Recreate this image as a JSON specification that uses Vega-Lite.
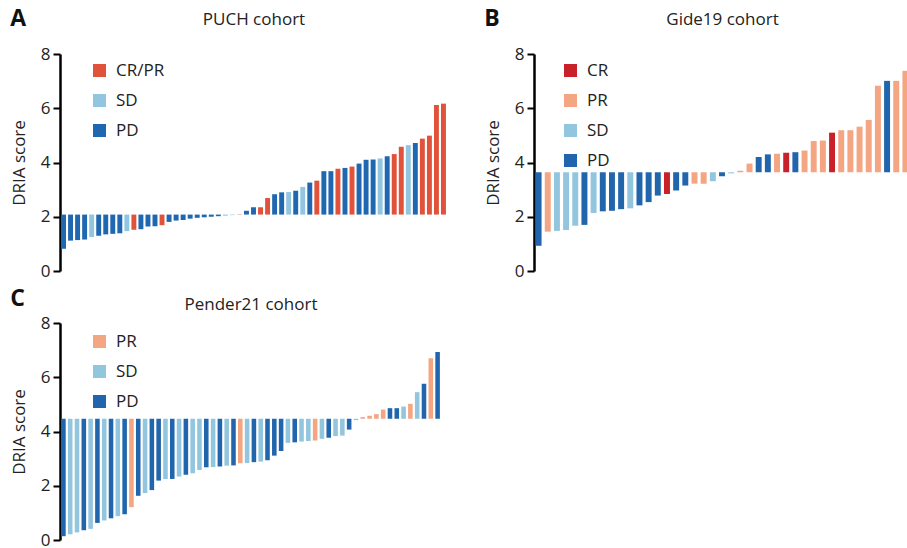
{
 "$schema": "https://vega.github.io/schema/vega-lite/v6.json",
 "background": "white",
 "padding": {"left": 10, "top": 8, "right": 0, "bottom": 0},
 "config": {
  "font": "Open Sans",
  "view": {"stroke": null},
  "axis": {"labelFontSize": 17, "titleFontSize": 17, "titleFontWeight": "normal", "labelColor": "#222", "titleColor": "#222", "grid": false},
  "axisY": {"domainColor": "#000", "domainWidth": 2.5, "tickColor": "#000", "tickWidth": 2, "tickSize": 7, "labelPadding": 3, "titlePadding": 12},
  "title": {"fontSize": 23, "fontWeight": "bold", "color": "#111", "anchor": "start", "frame": "bounds"},
  "legend": {"symbolType": "square", "symbolSize": 169, "symbolStrokeWidth": 0, "labelFontSize": 17, "labelColor": "#222", "rowPadding": 12, "labelOffset": 8, "padding": 0, "orient": "none"}
 },
 "datasets": {
  "puch": [
   {"rank":1,"score":0.82,"response":"PD"},{"rank":2,"score":1.12,"response":"PD"},{"rank":3,"score":1.14,"response":"PD"},{"rank":4,"score":1.16,"response":"PD"},{"rank":5,"score":1.25,"response":"SD"},{"rank":6,"score":1.30,"response":"PD"},{"rank":7,"score":1.35,"response":"PD"},{"rank":8,"score":1.37,"response":"PD"},{"rank":9,"score":1.39,"response":"PD"},{"rank":10,"score":1.47,"response":"SD"},{"rank":11,"score":1.52,"response":"CR/PR"},{"rank":12,"score":1.54,"response":"PD"},{"rank":13,"score":1.64,"response":"PD"},{"rank":14,"score":1.65,"response":"PD"},{"rank":15,"score":1.69,"response":"CR/PR"},{"rank":16,"score":1.81,"response":"PD"},{"rank":17,"score":1.86,"response":"PD"},{"rank":18,"score":1.88,"response":"PD"},{"rank":19,"score":1.93,"response":"PD"},{"rank":20,"score":1.96,"response":"PD"},{"rank":21,"score":1.98,"response":"PD"},{"rank":22,"score":2.00,"response":"PD"},{"rank":23,"score":2.02,"response":"PD"},{"rank":24,"score":2.04,"response":"SD"},{"rank":25,"score":2.06,"response":"SD"},{"rank":26,"score":2.07,"response":"CR/PR"},{"rank":27,"score":2.22,"response":"PD"},{"rank":28,"score":2.35,"response":"PD"},{"rank":29,"score":2.35,"response":"CR/PR"},{"rank":30,"score":2.69,"response":"CR/PR"},{"rank":31,"score":2.83,"response":"PD"},{"rank":32,"score":2.90,"response":"PD"},{"rank":33,"score":2.91,"response":"SD"},{"rank":34,"score":2.96,"response":"PD"},{"rank":35,"score":3.10,"response":"SD"},{"rank":36,"score":3.26,"response":"PD"},{"rank":37,"score":3.33,"response":"CR/PR"},{"rank":38,"score":3.68,"response":"PD"},{"rank":39,"score":3.68,"response":"PD"},{"rank":40,"score":3.77,"response":"CR/PR"},{"rank":41,"score":3.80,"response":"PD"},{"rank":42,"score":3.85,"response":"CR/PR"},{"rank":43,"score":3.96,"response":"PD"},{"rank":44,"score":4.10,"response":"PD"},{"rank":45,"score":4.11,"response":"PD"},{"rank":46,"score":4.15,"response":"SD"},{"rank":47,"score":4.23,"response":"PD"},{"rank":48,"score":4.31,"response":"CR/PR"},{"rank":49,"score":4.58,"response":"CR/PR"},{"rank":50,"score":4.64,"response":"SD"},{"rank":51,"score":4.72,"response":"PD"},{"rank":52,"score":4.88,"response":"CR/PR"},{"rank":53,"score":4.99,"response":"CR/PR"},{"rank":54,"score":6.12,"response":"CR/PR"},{"rank":55,"score":6.17,"response":"CR/PR"}
  ],
  "gide": [
   {"rank":1,"score":0.93,"response":"PD"},{"rank":2,"score":1.45,"response":"PR"},{"rank":3,"score":1.48,"response":"SD"},{"rank":4,"score":1.51,"response":"SD"},{"rank":5,"score":1.67,"response":"SD"},{"rank":6,"score":1.70,"response":"PD"},{"rank":7,"score":2.14,"response":"SD"},{"rank":8,"score":2.20,"response":"PD"},{"rank":9,"score":2.22,"response":"PD"},{"rank":10,"score":2.28,"response":"PD"},{"rank":11,"score":2.31,"response":"SD"},{"rank":12,"score":2.42,"response":"PD"},{"rank":13,"score":2.54,"response":"PD"},{"rank":14,"score":2.78,"response":"PD"},{"rank":15,"score":2.84,"response":"CR"},{"rank":16,"score":2.97,"response":"PD"},{"rank":17,"score":3.15,"response":"PD"},{"rank":18,"score":3.22,"response":"PR"},{"rank":19,"score":3.22,"response":"PR"},{"rank":20,"score":3.31,"response":"SD"},{"rank":21,"score":3.49,"response":"PD"},{"rank":22,"score":3.60,"response":"SD"},{"rank":23,"score":3.70,"response":"PR"},{"rank":24,"score":3.96,"response":"PR"},{"rank":25,"score":4.20,"response":"PD"},{"rank":26,"score":4.30,"response":"PD"},{"rank":27,"score":4.32,"response":"PR"},{"rank":28,"score":4.36,"response":"CR"},{"rank":29,"score":4.38,"response":"PD"},{"rank":30,"score":4.44,"response":"PR"},{"rank":31,"score":4.79,"response":"PR"},{"rank":32,"score":4.81,"response":"PR"},{"rank":33,"score":5.10,"response":"CR"},{"rank":34,"score":5.19,"response":"PR"},{"rank":35,"score":5.19,"response":"PR"},{"rank":36,"score":5.32,"response":"PR"},{"rank":37,"score":5.57,"response":"PR"},{"rank":38,"score":6.83,"response":"PR"},{"rank":39,"score":7.01,"response":"PD"},{"rank":40,"score":7.01,"response":"PR"},{"rank":41,"score":7.38,"response":"PR"}
  ],
  "pender": [
   {"rank":1,"score":0.14,"response":"PD"},{"rank":2,"score":0.21,"response":"SD"},{"rank":3,"score":0.28,"response":"SD"},{"rank":4,"score":0.36,"response":"PD"},{"rank":5,"score":0.41,"response":"SD"},{"rank":6,"score":0.63,"response":"PD"},{"rank":7,"score":0.72,"response":"SD"},{"rank":8,"score":0.80,"response":"PD"},{"rank":9,"score":0.88,"response":"SD"},{"rank":10,"score":0.95,"response":"PD"},{"rank":11,"score":1.21,"response":"PR"},{"rank":12,"score":1.63,"response":"PD"},{"rank":13,"score":1.73,"response":"SD"},{"rank":14,"score":1.84,"response":"PD"},{"rank":15,"score":2.19,"response":"PD"},{"rank":16,"score":2.25,"response":"SD"},{"rank":17,"score":2.25,"response":"PD"},{"rank":18,"score":2.34,"response":"SD"},{"rank":19,"score":2.41,"response":"PD"},{"rank":20,"score":2.46,"response":"SD"},{"rank":21,"score":2.58,"response":"SD"},{"rank":22,"score":2.68,"response":"PD"},{"rank":23,"score":2.69,"response":"SD"},{"rank":24,"score":2.71,"response":"PD"},{"rank":25,"score":2.74,"response":"SD"},{"rank":26,"score":2.75,"response":"PD"},{"rank":27,"score":2.83,"response":"PR"},{"rank":28,"score":2.84,"response":"SD"},{"rank":29,"score":2.87,"response":"PD"},{"rank":30,"score":2.89,"response":"SD"},{"rank":31,"score":2.94,"response":"PD"},{"rank":32,"score":3.11,"response":"PD"},{"rank":33,"score":3.28,"response":"PD"},{"rank":34,"score":3.58,"response":"SD"},{"rank":35,"score":3.60,"response":"PD"},{"rank":36,"score":3.63,"response":"SD"},{"rank":37,"score":3.65,"response":"SD"},{"rank":38,"score":3.67,"response":"PR"},{"rank":39,"score":3.73,"response":"SD"},{"rank":40,"score":3.77,"response":"PD"},{"rank":41,"score":3.83,"response":"SD"},{"rank":42,"score":3.85,"response":"SD"},{"rank":43,"score":4.07,"response":"PD"},{"rank":44,"score":4.42,"response":"SD"},{"rank":45,"score":4.53,"response":"PR"},{"rank":46,"score":4.58,"response":"PR"},{"rank":47,"score":4.64,"response":"PR"},{"rank":48,"score":4.81,"response":"PR"},{"rank":49,"score":4.86,"response":"PD"},{"rank":50,"score":4.86,"response":"PD"},{"rank":51,"score":4.92,"response":"SD"},{"rank":52,"score":5.02,"response":"PR"},{"rank":53,"score":5.45,"response":"SD"},{"rank":54,"score":5.76,"response":"PD"},{"rank":55,"score":6.70,"response":"PR"},{"rank":56,"score":6.93,"response":"PD"}
  ]
 },
 "columns": 2,
 "spacing": {"column": 37, "row": 9},
 "resolve": {"scale": {"color": "independent", "x": "independent", "y": "independent"}},
 "concat": [
  {
   "width": 387, "height": 217,
   "data": {"name": "puch"},
   "title": {"text": "A", "dy": 25},
   "mark": {"type": "bar"},
   "encoding": {
    "x": {"field": "rank", "type": "ordinal", "sort": null, "scale": {"paddingInner": 0.3, "paddingOuter": 0.15}, "axis": {"orient": "top", "title": "PUCH cohort", "labels": false, "ticks": false, "domain": false, "titlePadding": 26}},
    "y": {"field": "score", "type": "quantitative", "scale": {"domain": [0, 8], "nice": false}, "axis": {"values": [0, 2, 4, 6, 8], "title": "DRIA score"}},
    "y2": {"datum": 2.08},
    "color": {"field": "response", "type": "nominal", "scale": {"domain": ["CR/PR", "SD", "PD"], "range": ["#e0533a", "#92c5e0", "#1f67b1"]}, "legend": {"title": null, "legendX": 31, "legendY": 8}}
   }
  },
  {
   "width": 376, "height": 217,
   "data": {"name": "gide"},
   "title": {"text": "B", "dy": 25},
   "mark": {"type": "bar"},
   "encoding": {
    "x": {"field": "rank", "type": "ordinal", "sort": null, "scale": {"paddingInner": 0.35, "paddingOuter": 0.175}, "axis": {"orient": "top", "title": "Gide19 cohort", "labels": false, "ticks": false, "domain": false, "titlePadding": 26}},
    "y": {"field": "score", "type": "quantitative", "scale": {"domain": [0, 8], "nice": false}, "axis": {"values": [0, 2, 4, 6, 8], "title": "DRIA score"}},
    "y2": {"datum": 3.64},
    "color": {"field": "response", "type": "nominal", "scale": {"domain": ["CR", "PR", "SD", "PD"], "range": ["#c8212a", "#f4a582", "#92c5de", "#2166ac"]}, "legend": {"title": null, "legendX": 28, "legendY": 8}}
   }
  },
  {
   "width": 381, "height": 217,
   "data": {"name": "pender"},
   "title": {"text": "C", "dy": 20},
   "mark": {"type": "bar"},
   "encoding": {
    "x": {"field": "rank", "type": "ordinal", "sort": null, "scale": {"paddingInner": 0.33, "paddingOuter": 0.165}, "axis": {"orient": "top", "title": "Pender21 cohort", "labels": false, "ticks": false, "domain": false, "titlePadding": 10}},
    "y": {"field": "score", "type": "quantitative", "scale": {"domain": [0, 8], "nice": false}, "axis": {"values": [0, 2, 4, 6, 8], "title": "DRIA score"}},
    "y2": {"datum": 4.47},
    "color": {"field": "response", "type": "nominal", "scale": {"domain": ["PR", "SD", "PD"], "range": ["#f4a582", "#92c5de", "#2166ac"]}, "legend": {"title": null, "legendX": 31, "legendY": 10}}
   }
  }
 ]
}
